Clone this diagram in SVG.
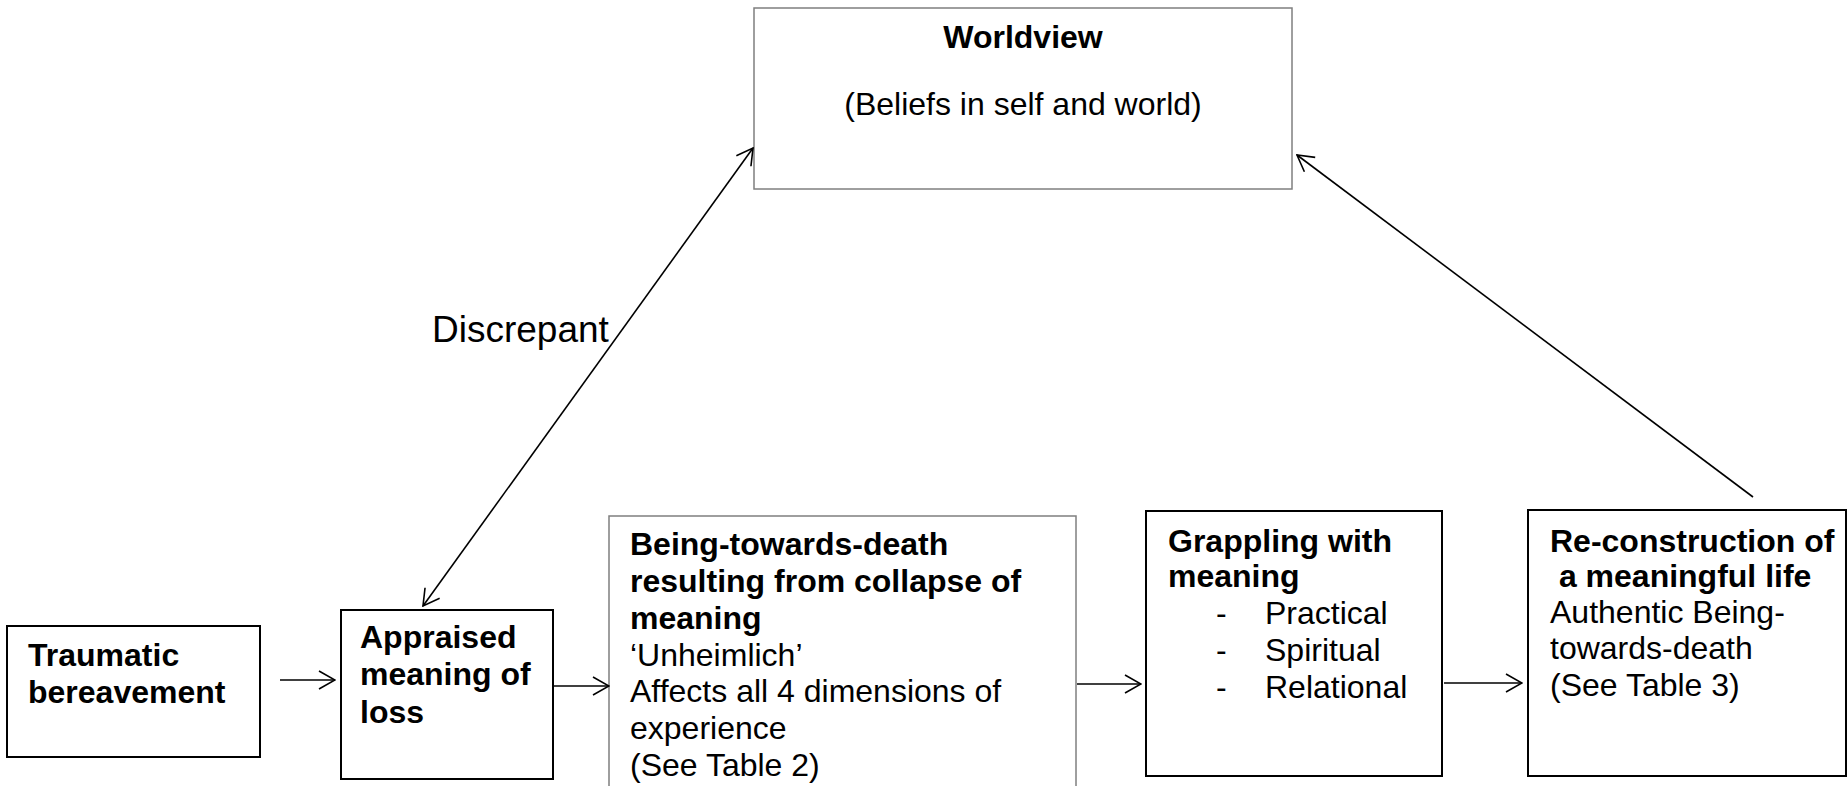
<svg xmlns="http://www.w3.org/2000/svg" width="1848" height="786" viewBox="0 0 1848 786">
  <style>
    .box { fill: #ffffff; stroke: #000000; stroke-width: 2; }
    .box-thin { fill: #ffffff; stroke: #7f7f7f; stroke-width: 1.5; }
    .t { font-family: "Liberation Sans", Arial, sans-serif; font-size: 32px; fill: #000000; }
    .b { font-weight: bold; }
    .lbl { font-family: "Liberation Sans", Arial, sans-serif; font-size: 37px; fill: #000000; }
    .conn { stroke: #000000; stroke-width: 1.6; fill: none; }
  </style>
  <defs>
    <marker id="open-arrow" markerUnits="userSpaceOnUse" viewBox="0 0 18 22" refX="17" refY="11" markerWidth="18" markerHeight="22" orient="auto-start-reverse">
      <path d="M1,2 L17,11 L1,20" fill="none" stroke="#000000" stroke-width="1.6"/>
    </marker>
  </defs>

  <rect width="1848" height="786" fill="#ffffff"/>

  <!-- Top: worldview -->
  <g id="node-worldview">
    <rect class="box-thin" x="754" y="8" width="538" height="181"/>
    <text class="t b" x="1023" y="48" text-anchor="middle">Worldview</text>
    <text class="t" x="1023" y="115" text-anchor="middle">(Beliefs in self and world)</text>
  </g>

  <!-- Bottom row, left to right -->
  <g id="node-traumatic">
    <rect class="box" x="7" y="626" width="253" height="131"/>
    <text class="t b" x="28" y="666">Traumatic</text>
    <text class="t b" x="28" y="703">bereavement</text>
  </g>

  <g id="node-appraised">
    <rect class="box" x="341" y="610" width="212" height="169"/>
    <text class="t b" x="360" y="648">Appraised</text>
    <text class="t b" x="360" y="685">meaning of</text>
    <text class="t b" x="360" y="723">loss</text>
  </g>

  <g id="node-being">
    <rect class="box-thin" x="609" y="516" width="467" height="290"/>
    <text class="t b" x="630" y="555">Being-towards-death</text>
    <text class="t b" x="630" y="592">resulting from collapse of</text>
    <text class="t b" x="630" y="629">meaning</text>
    <text class="t" x="630" y="666">‘Unheimlich’</text>
    <text class="t" x="630" y="702">Affects all 4 dimensions of</text>
    <text class="t" x="630" y="739">experience</text>
    <text class="t" x="630" y="776">(See Table 2)</text>
  </g>

  <g id="node-grappling">
    <rect class="box" x="1146" y="511" width="296" height="265"/>
    <text class="t b" x="1168" y="552">Grappling with</text>
    <text class="t b" x="1168" y="587">meaning</text>
    <text class="t" x="1216" y="624">-</text>
    <text class="t" x="1265" y="624">Practical</text>
    <text class="t" x="1216" y="661">-</text>
    <text class="t" x="1265" y="661">Spiritual</text>
    <text class="t" x="1216" y="698">-</text>
    <text class="t" x="1265" y="698">Relational</text>
  </g>

  <g id="node-reconstruction">
    <rect class="box" x="1528" y="510" width="318" height="266"/>
    <text class="t b" x="1550" y="552">Re-construction of</text>
    <text class="t b" x="1550" y="587" xml:space="preserve"> a meaningful life</text>
    <text class="t" x="1550" y="623">Authentic Being-</text>
    <text class="t" x="1550" y="659">towards-death</text>
    <text class="t" x="1550" y="696">(See Table 3)</text>
  </g>

  <!-- Connectors -->
  <g id="connectors">
    <line class="conn" x1="280" y1="680" x2="335" y2="680" marker-end="url(#open-arrow)"/>
    <line class="conn" x1="552" y1="686" x2="609" y2="686" marker-end="url(#open-arrow)"/>
    <line class="conn" x1="1077" y1="684" x2="1141" y2="684" marker-end="url(#open-arrow)"/>
    <line class="conn" x1="1444" y1="683" x2="1522" y2="683" marker-end="url(#open-arrow)"/>
    <line class="conn" x1="423" y1="606" x2="753" y2="148" marker-start="url(#open-arrow)" marker-end="url(#open-arrow)"/>
    <line class="conn" x1="1753" y1="497" x2="1297" y2="155" marker-end="url(#open-arrow)"/>
    <text class="lbl" x="432" y="342">Discrepant</text>
  </g>
</svg>
